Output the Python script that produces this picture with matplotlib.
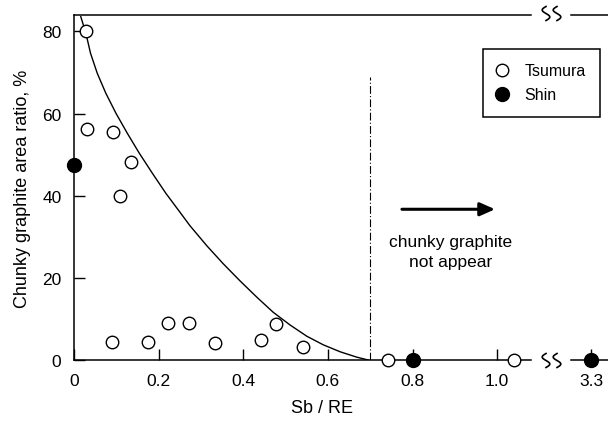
import numpy as np
import matplotlib.pyplot as plt
from matplotlib.lines import Line2D

plt.rcParams['font.family'] = ['Liberation Sans', 'DejaVu Sans']

# data
tsumura_x = [0.028, 0.031, 0.093, 0.135, 0.109, 0.090, 0.175, 0.221, 0.271,
             0.334, 0.442, 0.478, 0.542, 0.742, 1.039]
tsumura_y = [80.0, 56.2, 55.6, 48.2, 40.0, 4.5, 4.3, 8.9, 9.0,
             4.1, 4.9, 8.7, 3.1, 0.0, 0.0]
shin_x = [0.0, 0.8]
shin_y = [47.4, 0.0]
shin_far_x = [3.3]
shin_far_y = [0.0]

curve_x = [0.016, 0.028, 0.039, 0.055, 0.075, 0.099, 0.126, 0.154, 0.185,
           0.217, 0.251, 0.274, 0.314, 0.353, 0.392, 0.432, 0.471, 0.511,
           0.550, 0.589, 0.629, 0.668, 0.695]
curve_y = [83.6, 79.6, 74.7, 69.8, 65.0, 60.1, 55.2, 50.4, 45.5,
           40.6, 35.9, 32.7, 27.8, 23.4, 19.3, 15.3, 11.6, 8.5,
           5.8, 3.7, 2.0, 0.7, 0.0]

limit_x = 0.70
xticks = [0, 0.2, 0.4, 0.6, 0.8, 1.0]
xticklabels = ['0', '0.2', '0.4', '0.6', '0.8', '1.0']
yticks = [0, 20, 40, 60, 80]

W, H = 608, 427
fig = plt.figure(figsize=(W / 100, H / 100), dpi=100)

# main axes
ax = fig.add_axes([74 / W, 1 - 361 / H, (531 - 74) / W, (361 - 16) / H])
ax.set_xlim(0, 1.080)
ax.set_ylim(0, 84)
ax.spines['right'].set_visible(False)
for s in ['left', 'bottom', 'top']:
    ax.spines[s].set_linewidth(1.1)

ax.plot(curve_x, curve_y, color='black', lw=1.0)
ax.plot(tsumura_x, tsumura_y, 'o', ms=9, mfc='white', mec='black', mew=1.0,
        label='Tsumura', clip_on=False, zorder=5)
ax.plot(shin_x, shin_y, 'o', ms=10, color='black', label='Shin',
        clip_on=False, zorder=5)

ax.plot([limit_x, limit_x], [0, 69], color='black', lw=0.8,
        linestyle=(0, (7, 2, 1, 2)))
ax.annotate('', xy=(0.995, 36.7), xytext=(0.775, 36.7),
            arrowprops=dict(arrowstyle='-|>,head_length=0.45,head_width=0.2',
                            lw=2.2, color='black', mutation_scale=20,
                            shrinkA=0, shrinkB=0))
ax.text(0.889, 26.4, 'chunky graphite\nnot appear', ha='center', va='center',
        fontsize=12.5, linespacing=1.35)

ax.set_xticks(xticks)
ax.set_xticklabels(xticklabels)
ax.set_yticks(yticks)
ax.tick_params(direction='in', length=8, width=1.0, labelsize=12.5)
ax.tick_params(axis='x', pad=9)
ax.tick_params(axis='y', pad=9)

ax.set_ylabel('Chunky graphite area ratio, %', fontsize=13, labelpad=8)
ax.set_xlabel('Sb / RE', fontsize=13)
ax.xaxis.set_label_coords((322 - 74) / (531 - 74), -0.112)

leg = ax.legend(loc='upper left', bbox_to_anchor=(483 / W, 1 - 50 / H),
                bbox_transform=fig.transFigure, borderaxespad=0,
                fancybox=False, framealpha=1, edgecolor='black',
                fontsize=11.5, handlelength=0.6, handletextpad=1.1,
                borderpad=0.9, labelspacing=0.55)
leg.get_frame().set_linewidth(1.1)

# broken-axis part for the far value
ax2 = fig.add_axes([571 / W, 1 - 361 / H, 60 / W, (361 - 16) / H])
ax2.set_xlim(3.2, 3.5)
ax2.set_ylim(0, 84)
ax2.patch.set_visible(False)
for s in ['left', 'right']:
    ax2.spines[s].set_visible(False)
for s in ['top', 'bottom']:
    ax2.spines[s].set_linewidth(1.1)
ax2.plot(shin_far_x, shin_far_y, 'o', ms=10, color='black', clip_on=False,
         zorder=5)
ax2.set_xticks(shin_far_x)
ax2.set_xticklabels(['3.3'])
ax2.set_yticks([])
ax2.tick_params(direction='in', length=8, width=1.0, labelsize=12.5, pad=9)

# break marks
t = np.linspace(0, 1, 40)
for cy in [14.5, 361.5]:
    for cx in [546, 557]:
        xs = cx - 3.8 * np.sin(2 * np.pi * t)
        ys = cy - 7 + 14 * t
        fig.add_artist(Line2D(xs / W, 1 - ys / H, color='black', lw=1.2,
                              transform=fig.transFigure))

fig.savefig('out.png', dpi=100)
